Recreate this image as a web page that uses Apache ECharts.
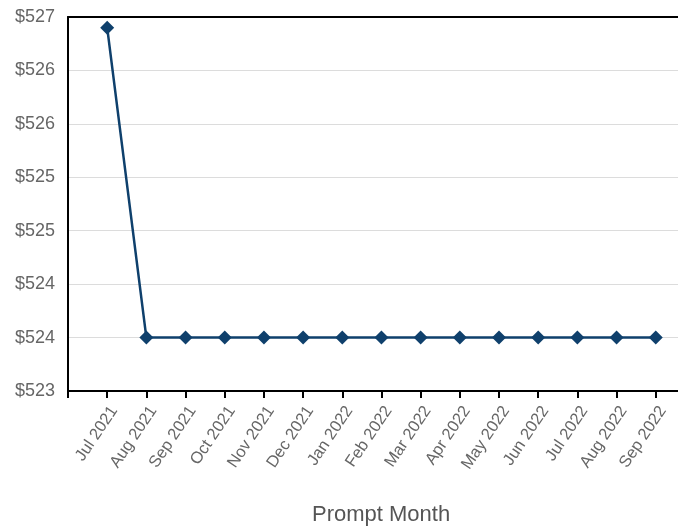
<!DOCTYPE html>
<html>
<head>
<meta charset="utf-8">
<script src="https://cdn.jsdelivr.net/npm/echarts@6/dist/echarts.min.js"></script>
<style>html,body{margin:0;padding:0;background:#fff;overflow:hidden}#c{width:682px;height:531px}</style>
</head>
<body>
<div id="c"></div>
<script>
const categories = ['Jul 2021','Aug 2021','Sep 2021','Oct 2021','Nov 2021','Dec 2021','Jan 2022','Feb 2022','Mar 2022','Apr 2022','May 2022','Jun 2022','Jul 2022','Aug 2022','Sep 2022'];
const prices = [526.4, 523.5, 523.5, 523.5, 523.5, 523.5, 523.5, 523.5, 523.5, 523.5, 523.5, 523.5, 523.5, 523.5, 523.5];
const yTicks = [523, 523.5, 524, 524.5, 525, 525.5, 526, 526.5];

const idx = categories.map((c, i) => i);
const chart = echarts.init(document.getElementById('c'), null, {renderer: 'canvas'});
chart.setOption({
  animation: false,
  textStyle: {fontFamily: 'Liberation Sans, Arial, sans-serif'},
  title: {
    text: 'Prompt Month', left: 307, top: 499,
    textStyle: {fontSize: 22, fontWeight: 'normal', color: '#555', fontFamily: 'Liberation Sans, Arial, sans-serif'}
  },
  grid: {left: 68, right: 0, top: 17, bottom: 140, containLabel: false},
  xAxis: [{
    type: 'value', min: -1, max: 14.67, interval: 1,
    axisLine: {show: true, onZero: false, lineStyle: {color: '#000', width: 2}},
    axisTick: {show: true, length: 7, lineStyle: {color: '#000', width: 2}},
    axisLabel: {
      customValues: idx, rotate: 56, margin: 12, fontSize: 16.5, color: '#666',
      verticalAlign: 'top',
      formatter: v => categories[Math.round(v)] || ''
    },
    splitLine: {show: false}
  }, {
    type: 'value', min: -1, max: 14.67, position: 'top',
    axisLine: {show: true, onZero: false, lineStyle: {color: '#000', width: 2}},
    axisTick: {show: false}, axisLabel: {show: false}, splitLine: {show: false}
  }],
  yAxis: {
    type: 'value', min: yTicks[0], max: yTicks[yTicks.length - 1], interval: 0.5,
    axisLine: {show: true, onZero: false, lineStyle: {color: '#000', width: 2}},
    axisTick: {show: false},
    axisLabel: {fontSize: 18, color: '#666', margin: 13, formatter: v => '$' + Math.round(v)},
    splitLine: {show: true, lineStyle: {color: '#dcdcdc', width: 1}}
  },
  series: [{
    type: 'line', xAxisIndex: 0,
    data: prices.map((p, i) => [idx[i], p]),
    symbol: 'diamond', symbolSize: 14,
    lineStyle: {color: '#0f406c', width: 2.5},
    itemStyle: {color: '#0f406c'}
  }]
});
</script>
</body>
</html>
